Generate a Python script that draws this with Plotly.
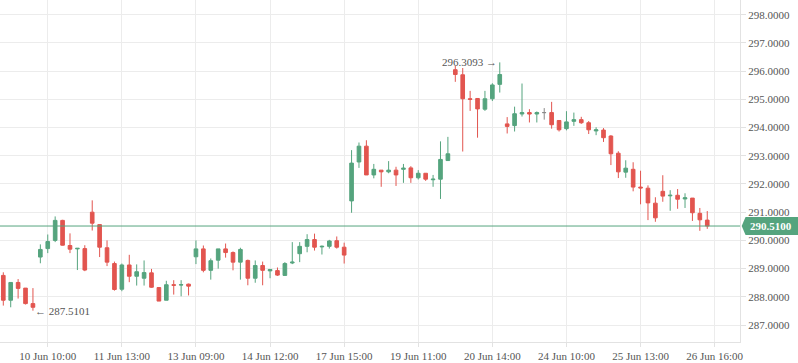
import plotly.graph_objects as go

tick_labels = ["10 Jun 10:00", "11 Jun 13:00", "13 Jun 09:00", "14 Jun 12:00", "17 Jun 15:00",
               "19 Jun 11:00", "20 Jun 14:00", "24 Jun 10:00", "25 Jun 13:00", "26 Jun 16:00"]
tick_positions = [6, 16, 26, 36, 46, 56, 66, 76, 86, 96]

opens = [288.76, 287.88, 288.51, 288.31, 287.76, 289.41, 289.71, 290.00, 290.71, 289.82,
         289.70, 289.71, 291.00, 290.56, 289.74, 289.18, 288.27, 289.13, 288.73, 288.66,
         288.85, 288.33, 287.88, 288.43, 288.42, 288.45, 289.42, 289.70, 288.94, 289.30,
         289.70, 289.57, 289.23, 289.29, 288.66, 289.11, 288.92, 288.93, 288.76, 289.20,
         289.53, 289.79, 290.03, 289.77, 289.79, 289.99, 289.76, 291.40, 292.78, 293.34,
         292.32, 292.49, 292.43, 292.49, 292.52, 292.57, 292.22, 292.38, 292.15, 292.17,
         292.83, 296.05, 295.87, 295.02, 295.03, 294.65, 295.02, 295.53, 294.13, 294.07,
         294.48, 294.53, 294.48, 294.53, 294.53, 294.25, 293.96, 294.22, 294.28, 294.17,
         293.88, 293.91, 293.70, 293.09, 292.42, 292.52, 291.89, 291.85, 291.32, 291.74,
         291.58, 291.60, 291.47, 291.50, 290.96, 290.72]
highs = [288.87, 288.51, 288.63, 288.31, 288.31, 289.86, 290.21, 290.85, 290.73, 290.25,
         289.72, 289.83, 291.42, 290.56, 290.00, 289.25, 289.18, 289.49, 289.15, 289.29,
         288.99, 288.33, 288.57, 288.59, 288.59, 288.47, 290.00, 289.82, 289.36, 289.70,
         289.89, 289.61, 289.74, 289.32, 289.29, 289.25, 288.99, 289.04, 289.23, 289.94,
         289.94, 290.22, 290.24, 289.82, 290.02, 290.14, 289.92, 293.20, 293.47, 293.55,
         292.71, 292.49, 292.81, 292.61, 292.71, 292.63, 292.49, 292.38, 292.32, 293.51,
         293.67, 296.19, 296.11, 295.30, 295.04, 295.30, 295.57, 296.3093, 294.37, 294.74,
         295.56, 294.65, 294.57, 294.69, 294.91, 294.25, 294.58, 294.53, 294.38, 294.23,
         294.01, 293.98, 293.73, 293.16, 292.84, 292.77, 292.47, 291.95, 291.53, 292.31,
         291.78, 291.82, 291.67, 291.50, 291.15, 291.04]
lows = [287.69, 287.63, 287.94, 287.73, 287.5101, 289.19, 289.55, 289.94, 289.82, 289.55,
        288.95, 288.91, 290.35, 289.41, 289.09, 288.22, 288.20, 288.52, 288.40, 288.40,
        288.32, 287.85, 287.88, 288.08, 288.02, 288.05, 289.16, 288.87, 288.61, 289.00,
        289.39, 288.94, 288.61, 288.41, 288.50, 288.41, 288.66, 288.74, 288.74, 289.16,
        289.23, 289.58, 289.64, 289.50, 289.71, 289.71, 289.18, 290.98, 292.57, 292.32,
        292.20, 291.90, 292.38, 291.93, 292.04, 292.04, 292.16, 292.11, 291.90, 291.47,
        292.82, 295.62, 293.15, 294.59, 293.64, 294.59, 294.94, 295.24, 293.79, 293.86,
        294.39, 294.18, 294.18, 294.28, 293.96, 293.86, 293.90, 294.06, 294.13, 293.77,
        293.73, 293.49, 292.67, 292.21, 292.22, 291.74, 291.28, 290.72, 290.66, 291.37,
        291.05, 291.12, 291.15, 290.69, 290.34, 290.41]
closes = [287.88, 288.51, 288.30, 287.76, 287.63, 289.68, 289.96, 290.71, 289.83, 289.69,
          289.72, 288.95, 290.61, 289.76, 289.23, 288.26, 289.13, 288.73, 288.89, 288.86,
          288.34, 287.85, 288.43, 288.41, 288.43, 288.38, 289.70, 288.94, 289.28, 289.70,
          289.57, 289.23, 289.68, 288.66, 289.11, 288.94, 288.97, 288.77, 289.18, 289.23,
          289.79, 290.03, 289.76, 289.79, 289.98, 289.76, 289.48, 292.74, 293.34, 292.32,
          292.52, 292.43, 292.49, 292.32, 292.56, 292.22, 292.38, 292.17, 292.17, 292.87,
          293.07, 295.88, 295.02, 295.00, 294.66, 295.02, 295.51, 295.88, 294.04, 294.49,
          294.53, 294.48, 294.53, 294.53, 294.10, 293.92, 294.20, 294.28, 294.17, 293.92,
          293.92, 293.64, 293.07, 292.43, 292.56, 291.89, 291.86, 291.33, 290.80, 291.57,
          291.60, 291.46, 291.51, 290.98, 290.73, 290.51]

GREEN = "#55a47e"
RED = "#e2554f"
GRAY = "#8a8a8a"
GRID = "#ececec"
TXT = "#555555"
FONT = "Liberation Serif"

idx = list(range(len(opens)))
neutral = [i for i in idx if opens[i] == closes[i]]
normal = [i for i in idx if opens[i] != closes[i]]

fig = go.Figure()
fig.add_trace(go.Candlestick(
    x=[i for i in normal],
    open=[opens[i] for i in normal], high=[highs[i] for i in normal],
    low=[lows[i] for i in normal], close=[closes[i] for i in normal],
    increasing=dict(line=dict(color=GREEN, width=1), fillcolor=GREEN),
    decreasing=dict(line=dict(color=RED, width=1), fillcolor=RED),
    whiskerwidth=0, showlegend=False, hoverinfo="skip",
))
fig.add_trace(go.Candlestick(
    x=neutral,
    open=[opens[i] for i in neutral], high=[highs[i] for i in neutral],
    low=[lows[i] for i in neutral], close=[closes[i] for i in neutral],
    increasing=dict(line=dict(color=GRAY, width=1), fillcolor=GRAY),
    decreasing=dict(line=dict(color=GRAY, width=1), fillcolor=GRAY),
    whiskerwidth=0, showlegend=False, hoverinfo="skip",
))

last = closes[-1]
fig.add_shape(type="line", xref="paper", yref="y", x0=0, x1=1, y0=last, y1=last,
              line=dict(color=GREEN, width=1), layer="above")
# price tag pointer
fig.add_shape(type="path", xref="paper", yref="y",
              path=f"M 1.0023 {last} L 1.0075 {last + 0.32} L 1.08 {last + 0.32} L 1.08 {last - 0.32} L 1.0075 {last - 0.32} Z",
              fillcolor=GREEN, line=dict(width=0), layer="above")
fig.add_annotation(x=1.0075, xref="paper", y=last, yref="y", xanchor="left", yanchor="middle",
                   text=f"<b>{last:.4f}</b>", showarrow=False,
                   font=dict(family=FONT, size=11, color="white"), xshift=2)

lo_i = lows.index(min(lows))
hi_i = highs.index(max(highs))
fig.add_annotation(x=lo_i, y=lows[lo_i], xref="x", yref="y", xanchor="left", yanchor="middle",
                   text=f"\u2190 {lows[lo_i]:.4f}", showarrow=False, xshift=0,
                   font=dict(family=FONT, size=11, color=TXT))
fig.add_annotation(x=hi_i, y=highs[hi_i], xref="x", yref="y", xanchor="right", yanchor="middle",
                   text=f"{highs[hi_i]:.4f} \u2192", showarrow=False, xshift=-1,
                   font=dict(family=FONT, size=11, color=TXT))

fig.update_layout(
    width=798, height=363,
    margin=dict(l=0, r=58, t=0, b=21),
    paper_bgcolor="white", plot_bgcolor="white",
    font=dict(family=FONT, size=11, color=TXT),
    showlegend=False,
    xaxis=dict(
        range=[-0.445, 99.42], rangeslider=dict(visible=False),
        tickmode="array", tickvals=tick_positions, ticktext=tick_labels,
        showgrid=True, gridcolor=GRID, gridwidth=1, zeroline=False,
        showline=True, linecolor="#e2e2e2", linewidth=1,
        ticks="outside", ticklen=4, tickcolor="#e2e2e2",
        tickfont=dict(family=FONT, size=11, color=TXT),
    ),
    yaxis=dict(
        side="right", range=[286.40, 298.52],
        tickmode="array", tickvals=list(range(287, 299)),
        tickformat=".4f",
        showgrid=True, gridcolor=GRID, gridwidth=1, zeroline=False,
        showline=True, linecolor="#e2e2e2", linewidth=1,
        ticks="outside", ticklen=5, tickcolor="#e2e2e2",
        tickfont=dict(family=FONT, size=11, color=TXT),
    ),
)

fig.write_html("out.html", config={"displayModeBar": False},
               post_script="document.body.style.margin='0';document.body.style.overflow='hidden';")
